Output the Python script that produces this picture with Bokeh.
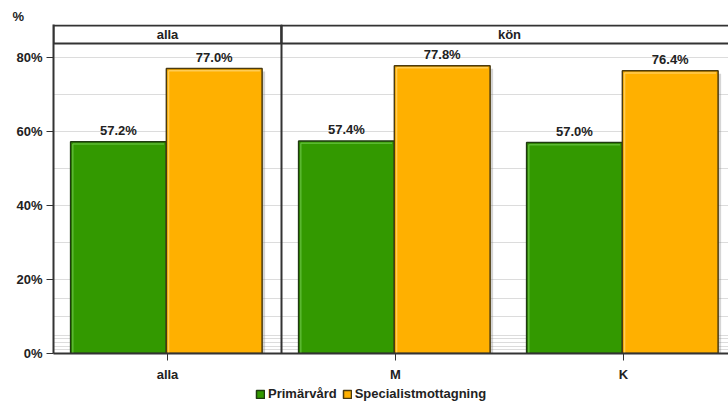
from bokeh.plotting import figure
from bokeh.layouts import column
from bokeh.models import (Range1d, FixedTicker, PrintfTickFormatter, Span, Legend,
                          LegendItem, ColumnDataSource, Title)
from bokeh.core.properties import value
from bokeh.embed import file_html
from bokeh.resources import INLINE

# ---- data ----
categories = ["alla", "M", "K"]
panels = ["alla", "kön"]
panel_sizes = [1, 2]          # categories per panel
series = ["Primärvård", "Specialistmottagning"]
primarvard = [57.2, 57.4, 57.0]
specialist = [77.0, 77.8, 76.4]
y_ticks = [0, 20, 40, 60, 80]
grid_levels = [1, 2, 3, 4, 5, 10, 15, 20, 30, 40, 50, 60, 70, 80]
unit_label = "%"

# ---- style ----
FONT = "Liberation Sans"
TXT = "#222222"
DARK = "#333333"
colors = ["#339900", "#FFB000"]
highlights = ["#66c040", "#ffd36a"]
outlines = ["#1f3a10", "#4a3a10"]
bar_w = 0.42
offsets = [0.285, 0.705]
FRAME_H = 329
PX_X = 1 / 228.0   # data units per pixel (x)
PX_Y = 1 / 3.7     # data units per pixel (y)
Y_TOP = FRAME_H * PX_Y

p = figure(width=728, height=386, output_backend="svg", toolbar_location=None,
           x_range=Range1d(0, 675 * PX_X), y_range=Range1d(0, Y_TOP),
           min_border_left=53, min_border_right=0, min_border_top=24,
           min_border_bottom=33)
p.outline_line_color = None
p.background_fill_color = "white"
p.border_fill_color = "white"

p.title = Title(text=unit_label, align="left", offset=-41, standoff=1,
                text_font=FONT, text_font_style="bold", text_font_size="13px",
                text_color=TXT)

# grid
p.xgrid.visible = False
p.ygrid.ticker = FixedTicker(ticks=grid_levels)
p.ygrid.grid_line_color = "#dcdcdc"
p.ygrid.grid_line_width = 1

# y axis
p.yaxis.ticker = FixedTicker(ticks=y_ticks)
p.yaxis.formatter = PrintfTickFormatter(format="%d%%")
p.yaxis.minor_tick_line_color = None
p.yaxis.major_tick_out = 7
p.yaxis.major_tick_in = 0
p.yaxis.major_label_standoff = 4
p.yaxis.axis_line_width = 2
p.yaxis.axis_line_color = DARK
p.yaxis.major_tick_line_color = DARK

# x axis
centers = [i + 0.5 for i in range(len(categories))]
p.xaxis.ticker = FixedTicker(ticks=centers)
p.xaxis.major_label_overrides = {c: lab for c, lab in zip(centers, categories)}
p.xaxis.minor_tick_line_color = None
p.xaxis.major_tick_out = 7
p.xaxis.major_tick_in = 0
p.xaxis.major_label_standoff = 6
p.xaxis.axis_line_width = 2
p.xaxis.axis_line_color = DARK
p.xaxis.major_tick_line_color = DARK

for ax in (p.xaxis, p.yaxis):
    ax.major_label_text_font = FONT
    ax.major_label_text_font_style = "bold"
    ax.major_label_text_font_size = "13px"
    ax.major_label_text_color = TXT

# bars
for s, vals in enumerate([primarvard, specialist]):
    xs = [i + offsets[s] for i in range(len(categories))]
    src = ColumnDataSource(dict(
        x=xs, top=vals,
        sx=[x + 3 * PX_X for x in xs],
        stop=[v - 3 * PX_Y for v in vals],
        labels=[f"{v:.1f}%" for v in vals],
        hl_x=[x - bar_w / 2 + 2.2 * PX_X for x in xs],
        hl_top=[v - 2.2 * PX_Y for v in vals],
        hl_x1=[x + bar_w / 2 - 2.2 * PX_X for x in xs],
        zero=[0] * len(vals),
    ))
    # shadow
    p.vbar(x="sx", top="stop", width=bar_w, bottom=0, source=src,
           fill_color="#888888", fill_alpha=0.35, line_color=None)
    p.vbar(x="x", top="top", width=bar_w, bottom=0, source=src,
           fill_color=colors[s], line_color=outlines[s], line_width=1.5)
    # inner highlight (left and top edges)
    p.segment(x0="hl_x", y0="zero", x1="hl_x", y1="hl_top", source=src,
              line_color=highlights[s], line_width=1.5, line_alpha=0.8)
    p.segment(x0="hl_x", y0="hl_top", x1="hl_x1", y1="hl_top", source=src,
              line_color=highlights[s], line_width=1.5, line_alpha=0.8)
    # value labels
    p.text(x="x", y="top", text="labels", source=src, text_align="center",
           text_baseline="bottom", y_offset=-4, text_font=value(FONT),
           text_font_style="bold", text_font_size="13px", text_color=TXT)

# strip headers
strip_top = Y_TOP - 1 * PX_Y
strip_bot = Y_TOP - 19 * PX_Y
lefts, rights, mids = [], [], []
start = 0
for n in panel_sizes:
    lefts.append(start)
    rights.append(start + n)
    mids.append(start + n / 2)
    start += n
p.quad(left=lefts, right=rights, top=strip_top, bottom=strip_bot,
       fill_color="white", line_color=DARK, line_width=2)
p.text(x=mids, y=[(strip_top + strip_bot) / 2] * len(mids), text=panels,
       text_align="center", text_baseline="middle", text_font=value(FONT),
       text_font_style="bold", text_font_size="13px", text_color=TXT)

# panel separators
for b in rights[:-1]:
    p.add_layout(Span(location=b, dimension="height", line_color=DARK, line_width=2))

# ---- legend strip (separate small figure below) ----
lg = figure(width=728, height=16, output_backend="svg", toolbar_location=None,
            x_range=Range1d(0, 1), y_range=Range1d(0, 1),
            x_axis_type=None, y_axis_type=None,
            min_border_left=0, min_border_right=0, min_border_top=0,
            min_border_bottom=0)
lg.outline_line_color = None
lg.xgrid.visible = False
lg.ygrid.visible = False
# key swatches: hidden renderers that only supply the legend glyph styling
leg_renderers = []
for s in range(2):
    r = lg.vbar(x=[0.5], top=[1], width=0.1, fill_color=colors[s],
                line_color=outlines[s], line_width=1.5)
    r.visible = False
    leg_renderers.append(r)
legend = Legend(items=[LegendItem(label=series[i], renderers=[leg_renderers[i]])
                       for i in range(2)],
                orientation="horizontal", location=(202, 1), padding=0, margin=0,
                spacing=5, label_standoff=3, glyph_width=10, glyph_height=10,
                label_height=14, label_text_font=FONT, label_text_font_style="bold",
                label_text_font_size="13px", label_text_color=TXT,
                border_line_color=None, background_fill_alpha=0,
                click_policy="none", inactive_fill_alpha=0)
lg.add_layout(legend, "center")

layout = column(p, lg, spacing=0)
open("out.html", "w").write(file_html(layout, INLINE))
